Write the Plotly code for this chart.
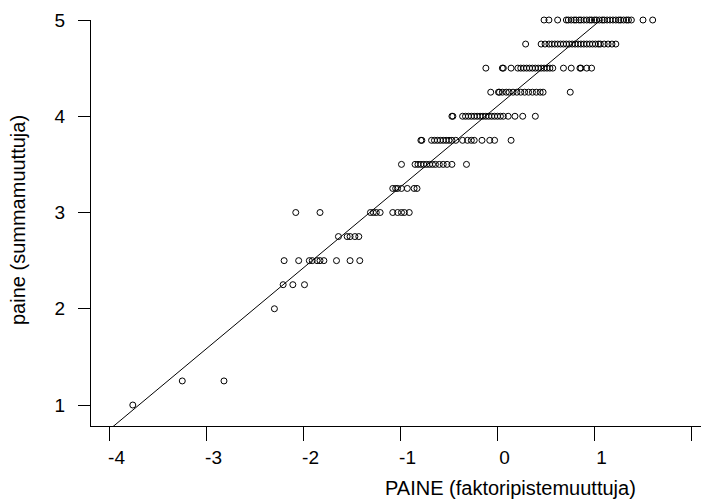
import plotly.graph_objects as go

# ---- data ----
x_y500 = [0.48, 0.53, 0.62, 0.71, 0.73, 0.76, 0.79, 0.81, 0.84, 0.86, 0.89, 0.92, 0.95,
          0.97, 1.00, 1.02, 1.05, 1.08, 1.10, 1.13, 1.16, 1.19, 1.22, 1.25, 1.27, 1.30,
          1.33, 1.35, 1.38, 1.50, 1.60]
x_y475 = [0.29, 0.45, 0.49, 0.53, 0.56, 0.59, 0.62, 0.65, 0.68, 0.71, 0.74, 0.77, 0.80,
          0.83, 0.86, 0.89, 0.92, 0.95, 0.98, 1.01, 1.04, 1.06, 1.10, 1.14, 1.18, 1.22]
x_y450 = [-0.12, 0.05, 0.06, 0.14, 0.21, 0.24, 0.27, 0.30, 0.33, 0.36, 0.39, 0.42, 0.45,
          0.48, 0.51, 0.54, 0.57, 0.68, 0.76, 0.85, 0.86, 0.92, 0.97]
x_y425 = [-0.07, 0.01, 0.02, 0.05, 0.09, 0.12, 0.16, 0.20, 0.24, 0.28, 0.32, 0.36, 0.40,
          0.44, 0.47, 0.75]
x_y400 = [-0.47, -0.46, -0.36, -0.33, -0.30, -0.27, -0.24, -0.21, -0.18, -0.15, -0.12,
          -0.09, -0.06, -0.03, 0.00, 0.03, 0.06, 0.11, 0.18, 0.26, 0.39]
x_y375 = [-0.79, -0.78, -0.68, -0.65, -0.62, -0.59, -0.56, -0.53, -0.50, -0.47, -0.43,
          -0.36, -0.31, -0.27, -0.24, -0.16, -0.08, -0.03, 0.14]
x_y350 = [-0.99, -0.85, -0.82, -0.79, -0.76, -0.73, -0.70, -0.67, -0.64, -0.60, -0.56,
          -0.52, -0.47, -0.32]
x_y325 = [-1.08, -1.05, -1.03, -0.99, -0.93, -0.86, -0.83]
x_y300 = [-2.08, -1.83, -1.31, -1.28, -1.25, -1.21, -1.08, -1.03, -0.99, -0.96, -0.91]
x_y275 = [-1.64, -1.55, -1.52, -1.47, -1.43]
x_y250 = [-2.20, -2.05, -1.94, -1.91, -1.86, -1.83, -1.79, -1.66, -1.52, -1.42]
x_y225 = [-2.21, -2.11, -1.99]
x_y200 = [-2.30]
x_y125 = [-3.25, -2.82]
x_y100 = [-3.76]

levels = [5.0, 4.75, 4.5, 4.25, 4.0, 3.75, 3.5, 3.25, 3.0, 2.75, 2.5, 2.25, 2.0, 1.25, 1.0]
rows = [x_y500, x_y475, x_y450, x_y425, x_y400, x_y375, x_y350, x_y325, x_y300,
        x_y275, x_y250, x_y225, x_y200, x_y125, x_y100]

fit_intercept = 4.106
fit_slope = 0.84

x_ticks = [-4, -3, -2, -1, 0, 1, 2]
x_ticktext = ["-4", "-3", "-2", "-1", "0", "1", "2"]
y_ticks = [1, 2, 3, 4, 5]
y_ticktext = ["1", "2", "3", "4", "5"]
x_range = [-4.191, 2.098]
y_range = [0.782, 5.0]

x_title = "PAINE (faktoripistemuuttuja)"
y_title = "paine (summamuuttuja)"

# ---- build ----
xs, ys = [], []
for lvl, row in zip(levels, rows):
    xs.extend(row)
    ys.extend([lvl] * len(row))

FONT = "Liberation Sans, Arial, sans-serif"

fig = go.Figure()
fig.add_trace(go.Scatter(
    x=xs, y=ys, mode="markers", cliponaxis=False,
    marker=dict(symbol="circle-open", size=6, color="black", line=dict(width=1, color="black")),
    showlegend=False, hoverinfo="skip"))

fx = [x_range[0], x_range[1]]
fy = [fit_intercept + fit_slope * v for v in fx]
fig.add_trace(go.Scatter(x=fx, y=fy, mode="lines", line=dict(color="black", width=1),
                         showlegend=False, hoverinfo="skip"))

fig.update_layout(
    width=701, height=500,
    margin=dict(l=91, r=0, t=20, b=74),
    paper_bgcolor="white", plot_bgcolor="white",
    font=dict(family=FONT, size=19, color="black"),
    xaxis=dict(range=x_range, tickvals=x_ticks, ticktext=x_ticktext, ticks="outside",
               ticklen=14, tickwidth=1, tickcolor="black", showline=True, linecolor="black",
               linewidth=1, showgrid=False, zeroline=False, ticklabelshift=7,
               ticklabelstandoff=0),
    yaxis=dict(range=y_range, tickvals=y_ticks, ticktext=y_ticktext, ticks="outside",
               ticklen=12, tickwidth=1, tickcolor="black", showline=True, linecolor="black",
               linewidth=1, showgrid=False, zeroline=False, ticklabelstandoff=9),
    annotations=[
        dict(text=x_title, xref="paper", yref="paper", x=(510 - 91) / 610, y=(426 - 488) / 406,
             showarrow=False, xanchor="center", yanchor="middle", font=dict(size=20)),
        dict(text=y_title, xref="paper", yref="paper", x=(18 - 91) / 610, y=(426 - 220) / 406,
             showarrow=False, xanchor="center", yanchor="middle", textangle=-90,
             font=dict(size=20)),
    ],
)

fig.write_html("out.html", config={"displayModeBar": False},
               post_script="document.body.style.margin='0';")
